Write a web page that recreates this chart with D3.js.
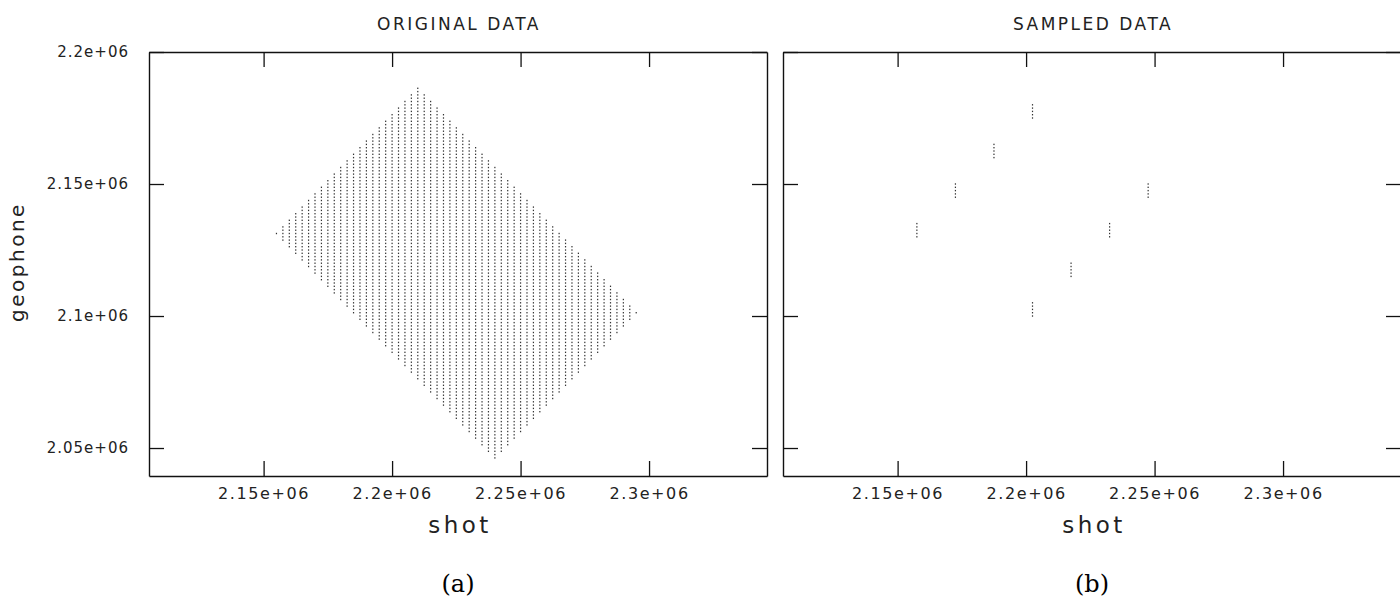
<!DOCTYPE html>
<html>
<head>
<meta charset="utf-8">
<script src="https://cdn.jsdelivr.net/npm/d3@7"></script>
<style>
body { margin: 0; background: #fff; }
svg { display: block; }
</style>
</head>
<body>
<script>
// shot positions of the survey columns (original data)
var shots = [2155000, 2157500, 2160000, 2162500, 2165000, 2167500, 2170000, 2172500, 2175000, 2177500,
	2180000, 2182500, 2185000, 2187500, 2190000, 2192500, 2195000, 2197500, 2200000, 2202500,
	2205000, 2207500, 2210000, 2212500, 2215000, 2217500, 2220000, 2222500, 2225000, 2227500,
	2230000, 2232500, 2235000, 2237500, 2240000, 2242500, 2245000, 2247500, 2250000, 2252500,
	2255000, 2257500, 2260000, 2262500, 2265000, 2267500, 2270000, 2272500, 2275000, 2277500,
	2280000, 2282500, 2285000, 2287500, 2290000, 2292500, 2295000];
// first and last geophone recorded for each shot
var geoTop = [2131250, 2133750, 2136250, 2138750, 2141250, 2143750, 2146250, 2148750, 2151250, 2153750,
	2156250, 2158750, 2161250, 2163750, 2166250, 2168750, 2171250, 2173750, 2176250, 2178750,
	2181250, 2183750, 2186250, 2183750, 2181250, 2178750, 2176250, 2173750, 2171250, 2168750,
	2166250, 2163750, 2161250, 2158750, 2156250, 2153750, 2151250, 2148750, 2146250, 2143750,
	2141250, 2138750, 2136250, 2133750, 2131250, 2128750, 2126250, 2123750, 2121250, 2118750,
	2116250, 2113750, 2111250, 2108750, 2106250, 2103750, 2101250];
var geoBottom = [2131250, 2128750, 2126250, 2123750, 2121250, 2118750, 2116250, 2113750, 2111250, 2108750,
	2106250, 2103750, 2101250, 2098750, 2096250, 2093750, 2091250, 2088750, 2086250, 2083750,
	2081250, 2078750, 2076250, 2073750, 2071250, 2068750, 2066250, 2063750, 2061250, 2058750,
	2056250, 2053750, 2051250, 2048750, 2046250, 2048750, 2051250, 2053750, 2056250, 2058750,
	2061250, 2063750, 2066250, 2068750, 2071250, 2073750, 2076250, 2078750, 2081250, 2083750,
	2086250, 2088750, 2091250, 2093750, 2096250, 2098750, 2101250];
var geoStep = 1250;

// sampled data: 8 short geophone runs
var sampleShots = [2202500, 2187500, 2172500, 2157500, 2247500, 2232500, 2217500, 2202500];
var sampleGeoBottom = [2175000, 2160000, 2145000, 2130000, 2145000, 2130000, 2115000, 2100000];
var sampleGeoTop = [2180000, 2165000, 2150000, 2135000, 2150000, 2135000, 2120000, 2105000];

var xTicks = [2150000, 2200000, 2250000, 2300000];
var yTicks = [2050000, 2100000, 2150000, 2200000];
var titles = ["ORIGINAL DATA", "SAMPLED DATA"];
var captions = ["(a)", "(b)"];
var xLabel = "shot", yLabel = "geophone";

var W = 618, H = 424, top0 = 52, lefts = [149, 783];
var lineFont = "'DejaVu Sans', sans-serif";

var x = d3.scaleLinear().domain([2105400, 2345900]).range([0, W]);
var y = d3.scaleLinear().domain([2039400, 2200000]).range([H, 0]);
var fmt = function(d){ return (d / 1e6) + "e+06"; };

function toPoints(sx, gb, gt){
	var pts = [];
	for(var i = 0;i<sx.length;i++){
		d3.range(gb[i], gt[i] + 1, geoStep).forEach(function(g){ pts.push([sx[i], g]); });
	}
	return pts;
}

var datasets = [toPoints(shots, geoBottom, geoTop), toPoints(sampleShots, sampleGeoBottom, sampleGeoTop)];

var svg = d3.select('body').append('svg').attr('width',1400).attr('height',608);

function styleAxis(ax, size, spacing){
	ax.selectAll('path.domain').attr('stroke','#111').attr('stroke-width',1.4);
	ax.selectAll('.tick line').attr('stroke','#111').attr('stroke-width',1.3);
	ax.selectAll('.tick text').attr('font-family',lineFont).attr('font-size',size)
		.attr('letter-spacing',spacing).attr('fill','#222');
}

function drawPanel(i){
	var g = svg.append('g').attr('transform','translate(' + lefts[i] + ',' + top0 + ')');

	g.append('g').selectAll('rect').data(datasets[i]).enter().append('rect')
		.attr('x',function(d){ return x(d[0]) - 0.6; })
		.attr('y',function(d){ return y(d[1]) - 0.7; })
		.attr('width',1.2).attr('height',1.4).attr('fill','#333');

	var bottom = g.append('g').attr('transform','translate(0,' + H + ')')
		.call(d3.axisBottom(x).tickValues(xTicks).tickSize(-15).tickSizeOuter(0).tickPadding(12).tickFormat(fmt));
	styleAxis(bottom, 16, 1.6);

	var topAx = g.append('g').call(d3.axisTop(x).tickValues(xTicks).tickSize(-15).tickSizeOuter(0).tickFormat(''));
	styleAxis(topAx, 10, 0);

	var leftAx = g.append('g')
		.call(d3.axisLeft(y).tickValues(yTicks).tickSize(-15).tickSizeOuter(0).tickPadding(20)
			.tickFormat(i == 0 ? fmt : ''));
	styleAxis(leftAx, 15, 1);

	var rightAx = g.append('g').attr('transform','translate(' + W + ',0)')
		.call(d3.axisRight(y).tickValues(yTicks).tickSize(-15).tickSizeOuter(0).tickFormat(''));
	styleAxis(rightAx, 10, 0);

	var cx = W / 2;
	g.append('text').attr('x',cx + 1).attr('y',-22).attr('text-anchor','middle')
		.attr('font-family',lineFont).attr('font-size',17).attr('letter-spacing',2.5).attr('fill','#222')
		.text(titles[i]);
	g.append('text').attr('x',cx + 2).attr('y',H + 57).attr('text-anchor','middle')
		.attr('font-family',lineFont).attr('font-size',23).attr('letter-spacing',3.5).attr('fill','#222')
		.text(xLabel);
	g.append('text').attr('x',cx).attr('y',H + 116).attr('text-anchor','middle')
		.attr('font-family',"'DejaVu Serif', serif").attr('font-size',24).attr('fill','#000')
		.text(captions[i]);
}

drawPanel(0);
drawPanel(1);

svg.append('text').attr('transform','translate(24,262) rotate(-90)').attr('text-anchor','middle')
	.attr('font-family',lineFont).attr('font-size',20).attr('letter-spacing',2.5).attr('fill','#222')
	.text(yLabel);
</script>
</body>
</html>
